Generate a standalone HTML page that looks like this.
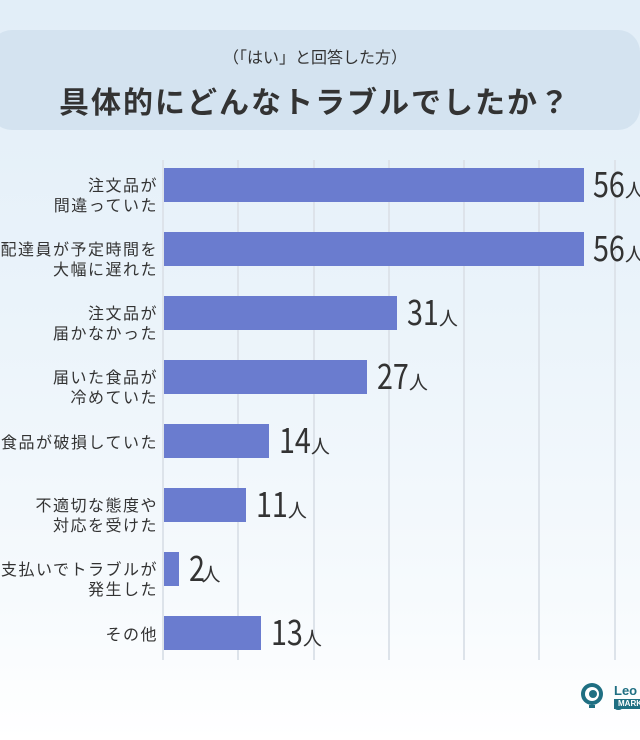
<!DOCTYPE html>
<html><head><meta charset="utf-8"><style>
body{margin:0;width:640px;height:740px;overflow:hidden;font-family:"Liberation Sans","Noto Sans CJK JP",sans-serif;background:linear-gradient(180deg,#e2eef8 0%,#eaf3fa 40%,#f6fafd 80%,#ffffff 100%);position:relative;color:#333}
.hdr{position:absolute;left:-10px;top:30px;width:650px;height:100px;border-radius:22px;background:#d4e3f0;text-align:center}
.sub{position:absolute;top:14px;left:0;right:0;font-size:16px;color:#333;font-family:"Noto Sans CJK JP",sans-serif}
.ttl{position:absolute;top:48px;left:0;right:0;font-size:30px;font-weight:bold;letter-spacing:2px;color:#333;font-family:"Noto Sans CJK JP",sans-serif}
.g{position:absolute;top:160px;height:500px;width:2px;background:#dde3ea}
.bar{position:absolute;left:164px;height:34px;background:#6a7ccf}
.lab{position:absolute;right:482px;font-size:16px;line-height:20px;letter-spacing:1.5px;text-align:right;white-space:nowrap;color:#333;font-family:"Noto Sans CJK JP",sans-serif}
.val{position:absolute;color:#333;white-space:nowrap;font-family:"Noto Sans CJK JP",sans-serif}
.val b{font-weight:normal;font-size:35px;display:inline-block;transform:scaleX(0.82);transform-origin:left;margin-right:-7px;line-height:40px}
.val small{font-size:19px}
</style></head><body>
<div class="hdr"><div class="sub">（「はい」と回答した方）</div><div class="ttl">具体的にどんなトラブルでしたか？</div></div>
<div class="g" style="left:162px"></div><div class="g" style="left:237px"></div><div class="g" style="left:313px"></div><div class="g" style="left:388px"></div><div class="g" style="left:463px"></div><div class="g" style="left:538px"></div><div class="g" style="left:614px"></div>

<div class="bar" style="top:168px;width:420px"></div>
<div class="lab" style="top:174px">注文品が<br>間違っていた</div>
<div class="val" style="left:593px;top:163px"><b>56</b><small>人</small></div>

<div class="bar" style="top:232px;width:420px"></div>
<div class="lab" style="top:238px">配達員が予定時間を<br>大幅に遅れた</div>
<div class="val" style="left:593px;top:227px"><b>56</b><small>人</small></div>

<div class="bar" style="top:296px;width:233px"></div>
<div class="lab" style="top:302px">注文品が<br>届かなかった</div>
<div class="val" style="left:407px;top:291px"><b>31</b><small>人</small></div>

<div class="bar" style="top:360px;width:203px"></div>
<div class="lab" style="top:366px">届いた食品が<br>冷めていた</div>
<div class="val" style="left:377px;top:355px"><b>27</b><small>人</small></div>

<div class="bar" style="top:424px;width:105px"></div>
<div class="lab" style="top:431px">食品が破損していた</div>
<div class="val" style="left:279px;top:419px"><b>14</b><small>人</small></div>

<div class="bar" style="top:488px;width:82px"></div>
<div class="lab" style="top:494px">不適切な態度や<br>対応を受けた</div>
<div class="val" style="left:256px;top:483px"><b>11</b><small>人</small></div>

<div class="bar" style="top:552px;width:15px"></div>
<div class="lab" style="top:558px">支払いでトラブルが<br>発生した</div>
<div class="val" style="left:189px;top:547px"><b>2</b><small>人</small></div>

<div class="bar" style="top:616px;width:97px"></div>
<div class="lab" style="top:623px">その他</div>
<div class="val" style="left:271px;top:611px"><b>13</b><small>人</small></div>

<svg style="position:absolute;left:580px;top:682px" width="26" height="30"><circle cx="12" cy="12" r="11" fill="#1f6f82"/><circle cx="12" cy="12" r="7" fill="#fff"/><circle cx="13" cy="12" r="4" fill="#1f6f82"/><rect x="9" y="23" width="6" height="3" fill="#1f6f82"/></svg>
<div style="position:absolute;left:614px;top:683px;font-size:13px;font-weight:bold;color:#1f6f82">Leo S</div>
<div style="position:absolute;left:614px;top:699px;width:30px;height:10px;background:#1f6f82;color:#fff;font-size:8px;font-weight:bold;line-height:10px;padding-left:4px">MARK</div>
</body></html>
